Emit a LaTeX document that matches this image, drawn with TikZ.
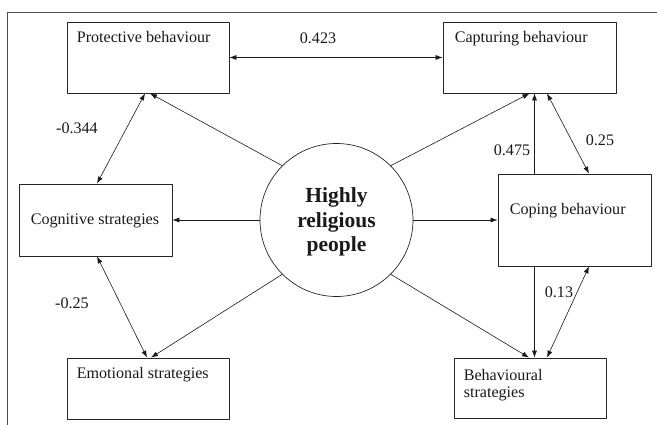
\documentclass[tikz,border=0pt]{standalone}
\usepackage{fontspec}
\setmainfont{Liberation Serif}
\usetikzlibrary{arrows.meta,calc}
\begin{document}
\begin{tikzpicture}[x=1pt,y=-1pt,line join=round,>={Latex[length=7pt,width=5pt]},
 box/.style={draw=black!85,line width=0.8pt,inner sep=0pt},
 txt/.style={inner sep=0pt,font=\fontsize{16.1}{17}\selectfont,text=black!90},
 coef/.style={inner sep=0pt,font=\fontsize{16.1}{17}\selectfont,text=black!90},
 lnk/.style={line width=0.6pt,draw=black!90}]
 \useasboundingbox (0,0) rectangle (657,425);
 \draw[black!70,line width=0.8pt] (7,425)--(7,12)--(657,12);
 % boxes
 \node[box,minimum width=162,minimum height=71] (pb) at (148,57.5) {};
 \node[box,minimum width=173,minimum height=71] (cb) at (529.5,57.5) {};
 \node[box,minimum width=153,minimum height=72] (cg) at (95.5,220) {};
 \node[box,minimum width=153,minimum height=92] (cp) at (574.5,220) {};
 \node[box,minimum width=162,minimum height=61] (em) at (148,388.5) {};
 \node[box,minimum width=152,minimum height=60] (bs) at (530,388) {};
 \node[draw=black!85,line width=0.7pt,circle,minimum size=153,inner sep=0pt] (hr) at (336.5,220) {};
 \node[align=center,inner sep=0pt,font=\fontsize{21.5}{24.5}\selectfont\bfseries,text=black!90] (hrt) at (336.5,222) {Highly\\religious\\people};
 % box texts
 \node[txt,anchor=base west] (pbt) at ([shift={(10,21)}]pb.north west) {Protective behaviour};
 \node[txt,anchor=base west] (cbt) at ([shift={(12,21)}]cb.north west) {Capturing behaviour};
 \node[txt,anchor=base west] (cgt) at ([shift={(12,41)}]cg.north west) {Cognitive strategies};
 \node[txt,anchor=base west] (cpt) at ([shift={(12,41)}]cp.north west) {Coping behaviour};
 \node[txt,anchor=base west] (emt) at ([shift={(10,21)}]em.north west) {Emotional strategies};
 \node[txt,anchor=north west,align=left] (bst) at ([shift={(10,12)}]bs.north west) {Behavioural\\strategies};
 % links
 \draw[lnk,<->] (pb.east)--(cb.west);
 \draw[lnk,->] (hr.135)--([xshift=2]pb.south);
 \draw[lnk,<->] ([xshift=-3]pb.south)--([xshift=1.5]cg.north);
 \draw[lnk,->] (hr.west)--(cg.east);
 \draw[lnk,<->] ([xshift=1.5]cg.south)--([xshift=-1]em.north);
 \draw[lnk,->] (hr.225)--([xshift=3]em.north);
 \draw[lnk,->] (hr.45)--(cb.south);
 \draw[lnk,->] ([xshift=-40]cp.north)--([xshift=-40]cp.north |- cb.south);
 \draw[lnk,<->] ([xshift=17.5]cb.south)--([xshift=14.5]cp.north);
 \draw[lnk,->] (hr.east)--(cp.west);
 \draw[lnk,->] ([xshift=-40]cp.south)--([xshift=-40]cp.south |- bs.north);
 \draw[lnk,<->] ([xshift=14.5]cp.south)--([xshift=17]bs.north);
 \draw[lnk,->] (hr.315)--([xshift=-1]bs.north);
 % coefficients
 \node[coef] (k1) at (318,38) {0.423};
 \node[coef] (k2) at (77,128) {-0.344};
 \node[coef] (k3) at (72,303) {-0.25};
 \node[coef] (k4) at (512,150) {0.475};
 \node[coef] (k5) at (600,140) {0.25};
 \node[coef] (k6) at (559,292) {0.13};
\end{tikzpicture}
\end{document}
